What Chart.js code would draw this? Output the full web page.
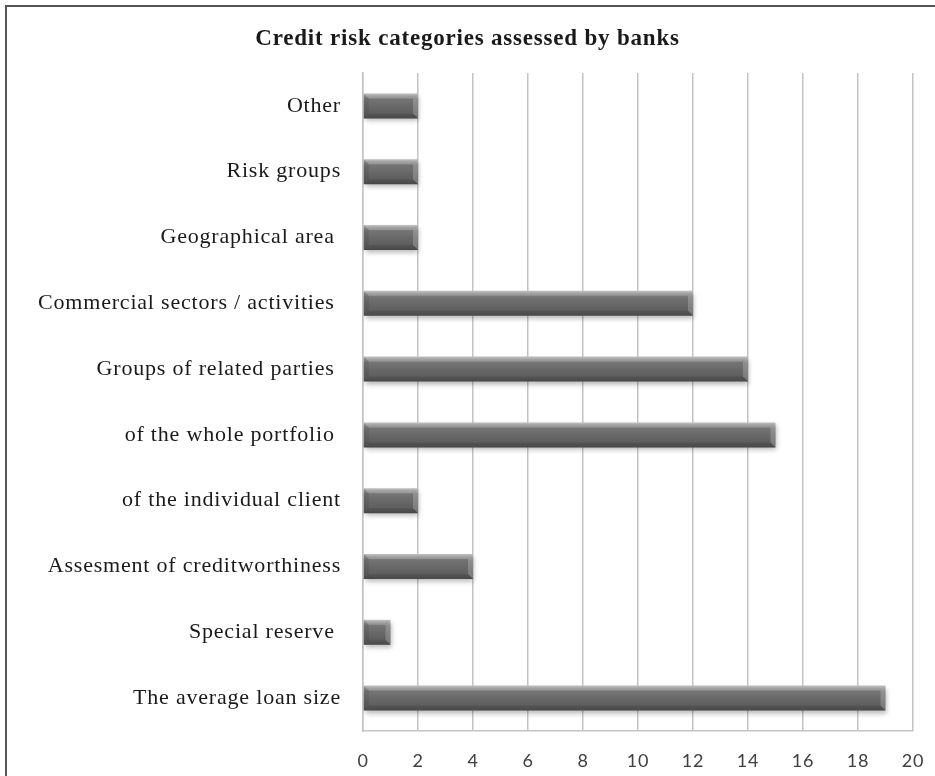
<!DOCTYPE html>
<html>
<head>
<meta charset="utf-8">
<script src="https://cdn.jsdelivr.net/npm/chart.js@4/dist/chart.umd.min.js"></script>
<style>
  html, body { margin: 0; padding: 0; background: #fff; }
  #wrap { position: relative; width: 935px; height: 776px; overflow: hidden; }
  #frame { position: absolute; left: 5px; top: 5px; width: 940px; height: 800px;
           border-left: 2px solid #555; border-top: 2px solid #555; box-sizing: border-box; }
  canvas { position: absolute; left: 0; top: 0; }
</style>
</head>
<body>
<div id="wrap">
  <div id="frame"></div>
  <canvas id="c" width="935" height="776"></canvas>
</div>
<script>
const categories = [
  "Other",
  "Risk groups",
  "Geographical area ",
  "Commercial sectors / activities ",
  "Groups of related parties ",
  "of the whole portfolio ",
  "of the individual client",
  "Assesment of creditworthiness",
  "Special reserve ",
  "The average loan size"
];
const banks = [2, 2, 2, 12, 14, 15, 2, 4, 1, 19];
const xTicks = [0, 2, 4, 6, 8, 10, 12, 14, 16, 18, 20];

const PLOT_LEFT = 363, PLOT_BOTTOM = 731, RIGHT_GAP = 22;

// cylinder-like shading for each bar
function barFill(ctx) {
  const chart = ctx.chart;
  const y = chart.scales.y;
  if (!chart.chartArea || !y) return '#666';
  const c = y.getPixelForValue(ctx.dataIndex);
  const h = 25;
  const g = chart.ctx.createLinearGradient(0, c - h / 2, 0, c + h / 2);
  g.addColorStop(0.00, '#b8b8b8');
  g.addColorStop(0.10, '#939393');
  g.addColorStop(0.24, '#747474');
  g.addColorStop(0.55, '#676767');
  g.addColorStop(0.85, '#5c5c5c');
  g.addColorStop(1.00, '#505050');
  return g;
}

const bevel = {
  id: 'bevel',
  beforeDatasetDraw(chart) {
    const c = chart.ctx;
    c.save();
    c.shadowColor = 'rgba(0,0,0,0.28)';
    c.shadowBlur = 5;
    c.shadowOffsetY = 3;
    c.shadowOffsetX = 1;
  },
  afterDatasetDraw(chart, args) {
    const c = chart.ctx;
    c.restore();
    const meta = chart.getDatasetMeta(args.index);
    c.save();
    meta.data.forEach(el => {
      const x0 = el.base, x1 = el.x, top = el.y - el.height / 2, bot = el.y + el.height / 2;
      const b = 5;
      c.fillStyle = 'rgba(255,255,255,0.16)';
      c.beginPath();
      c.moveTo(x0, top); c.lineTo(x1, top); c.lineTo(x1 - b, top + b); c.lineTo(x0 + b, top + b);
      c.closePath(); c.fill();
      c.fillStyle = 'rgba(255,255,255,0.20)';
      c.beginPath();
      c.moveTo(x1, top); c.lineTo(x1, bot); c.lineTo(x1 - b, bot - b); c.lineTo(x1 - b, top + b);
      c.closePath(); c.fill();
      c.fillStyle = 'rgba(0,0,0,0.10)';
      c.beginPath();
      c.moveTo(x0, bot); c.lineTo(x1, bot); c.lineTo(x1 - b, bot - b); c.lineTo(x0 + b, bot - b);
      c.closePath(); c.fill();
      c.fillStyle = 'rgba(0,0,0,0.08)';
      c.beginPath();
      c.moveTo(x0, top); c.lineTo(x0 + b, top + b); c.lineTo(x0 + b, bot - b); c.lineTo(x0, bot);
      c.closePath(); c.fill();
    });
    c.restore();
  }
};

// slightly open letter spacing for all chart text
const spacing = {
  id: 'spacing',
  beforeLayout(chart) { chart.ctx.letterSpacing = '0.8px'; },
  beforeDraw(chart) { chart.ctx.letterSpacing = '0.8px'; }
};

new Chart(document.getElementById('c'), {
  type: 'bar',
  data: {
    labels: categories,
    datasets: [{
      data: banks,
      backgroundColor: barFill,
      borderWidth: 0,
      barPercentage: 0.38,
      categoryPercentage: 1.0
    }]
  },
  options: {
    indexAxis: 'y',
    responsive: false,
    animation: false,
    layout: { padding: 0 },
    plugins: {
      legend: { display: false },
      tooltip: { enabled: false },
      title: {
        display: true,
        text: 'Credit risk categories assessed by banks',
        color: '#1a1a1a',
        font: { family: 'Liberation Serif', size: 23, weight: 'bold', lineHeight: 1.2 },
        padding: { top: 25, bottom: 20.4 }
      }
    },
    scales: {
      x: {
        min: 0, max: 20,
        afterBuildTicks: s => { s.ticks = xTicks.map(v => ({ value: v })); },
        afterFit: s => { s.height = 776 - PLOT_BOTTOM; s.paddingLeft = 0; s.paddingRight = RIGHT_GAP; },
        grid: { color: '#c3c3c3', lineWidth: 1.5, drawTicks: false },
        border: { display: true, color: '#c3c3c3', width: 1.5 },
        ticks: {
          color: '#404040',
          font: { family: 'Lato', size: 18 },
          padding: 19
        }
      },
      y: {
        afterFit: s => { s.width = PLOT_LEFT; s.paddingTop = 0; s.paddingBottom = 0; },
        grid: { display: false, drawTicks: false },
        border: { display: true, color: '#c3c3c3', width: 1.5 },
        ticks: {
          color: '#1a1a1a',
          font: { family: 'Liberation Serif', size: 22 },
          padding: 22,
          autoSkip: false
        }
      }
    }
  },
  plugins: [spacing, bevel]
});
</script>
</body>
</html>
